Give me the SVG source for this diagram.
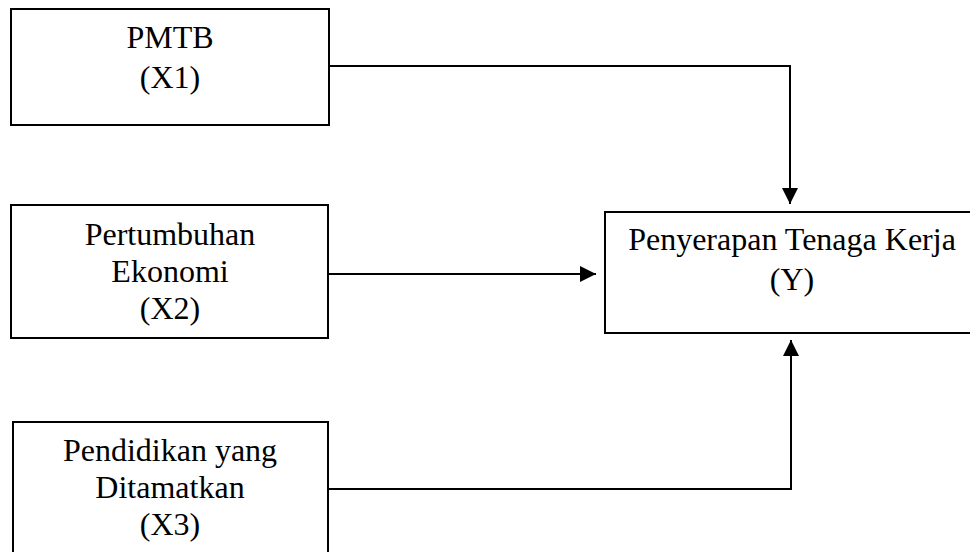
<svg xmlns="http://www.w3.org/2000/svg" width="970" height="552" viewBox="0 0 970 552">
<style>
.box{fill:#fff;stroke:#000;stroke-width:2}
.lbl{font-family:'Liberation Serif','Times New Roman',Times,serif;font-size:32px;fill:#000;text-anchor:middle}
.conn{fill:none;stroke:#000;stroke-width:2}
</style>
<defs>
<marker id="arr" markerUnits="userSpaceOnUse" markerWidth="16" markerHeight="16" refX="16" refY="8" orient="auto">
<path d="M0,0 L16,8 L0,16 z" fill="#000"/>
</marker>
</defs>
<rect width="970" height="552" fill="#fff"/>
<g id="connectors">
<path class="conn" d="M329,66 H790 V204" marker-end="url(#arr)"/>
<path class="conn" d="M329,274 H596" marker-end="url(#arr)"/>
<path class="conn" d="M328,489 H791 V340" marker-end="url(#arr)"/>
</g>
<g id="x1">
<rect class="box" x="11" y="9" width="318" height="116"/>
<text class="lbl" x="170" y="48" font-family="Liberation Serif, serif">PMTB</text>
<text class="lbl" x="170" y="88" font-family="Liberation Serif, serif">(X1)</text>
</g>
<g id="x2">
<rect class="box" x="11" y="205" width="317" height="133"/>
<text class="lbl" x="170" y="245">Pertumbuhan</text>
<text class="lbl" x="170" y="282">Ekonomi</text>
<text class="lbl" x="170" y="319">(X2)</text>
</g>
<g id="x3">
<rect class="box" x="13" y="422" width="315" height="140"/>
<text class="lbl" x="170" y="461">Pendidikan yang</text>
<text class="lbl" x="170" y="498">Ditamatkan</text>
<text class="lbl" x="170" y="535">(X3)</text>
</g>
<g id="y">
<rect class="box" x="605" y="212" width="375" height="121"/>
<text class="lbl" x="792" y="250">Penyerapan Tenaga Kerja</text>
<text class="lbl" x="792" y="290">(Y)</text>
</g>
</svg>
